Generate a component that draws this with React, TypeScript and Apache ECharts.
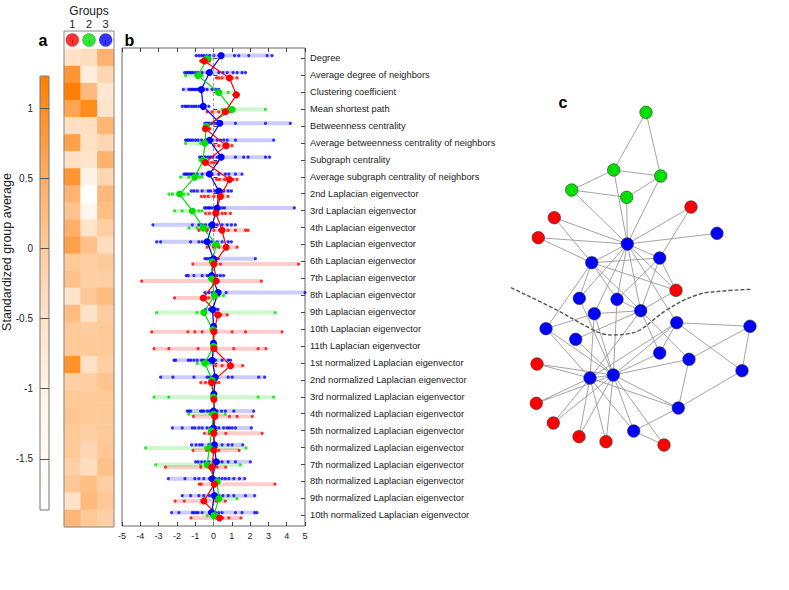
import React, { useEffect, useRef } from 'react';
import * as echarts from 'echarts';

const FONT = 'Liberation Sans, Arial, sans-serif';

const features = [
  'Degree', 'Average degree of neighbors', 'Clustering coefficient', 'Mean shortest path',
  'Betweenness centrality', 'Average betweenness centrality of neighbors', 'Subgraph centrality',
  'Average subgraph centrality of neighbors',
  '2nd Laplacian eigenvector', '3rd Laplacian eigenvector', '4th Laplacian eigenvector', '5th Laplacian eigenvector',
  '6th Laplacian eigenvector', '7th Laplacian eigenvector', '8th Laplacian eigenvector', '9th Laplacian eigenvector',
  '10th Laplacian eigenvector', '11th Laplacian eigenvector',
  '1st normalized Laplacian eigenvector', '2nd normalized Laplacian eigenvector', '3rd normalized Laplacian eigenvector',
  '4th normalized Laplacian eigenvector', '5th normalized Laplacian eigenvector', '6th normalized Laplacian eigenvector',
  '7th normalized Laplacian eigenvector', '8th normalized Laplacian eigenvector', '9th normalized Laplacian eigenvector',
  '10th normalized Laplacian eigenvector',
];

const groupLabels = ['1', '2', '3'];
const groupColors = ['#ff0000', '#00e000', '#0000ff'];
const bandColors = ['rgba(255,0,0,0.2)', 'rgba(0,220,0,0.2)', 'rgba(0,0,255,0.2)'];
const rowOffsets = [0.16, 0.02, -0.16];

// group means (standardized)
const redMean = [-0.5, 0.87, 1.25, 0.65, -0.44, 0.69, -0.45, 0.87, 0.38, 0.13, 0.47, 0.69, 0.02, 0.15,
  -0.56, 0.24, 0.02, 0.02, 0.93, -0.11, 0.02, 0.07, 0.02, 0.02, -0.1, 0.05, -0.53, 0.33];
const greenMean = [-0.35, -0.85, 0.29, 1.02, -0.4, -0.47, -0.56, -1.02, -1.85, -1.16, -0.56, 0.15, -0.07, -0.1,
  0.05, -0.53, -0.04, 0, -0.47, -0.07, 0, 0, -0.11, -0.22, -0.35, 0.2, 0.29, 0.02];
const blueMean = [0.42, -0.22, -0.67, -0.56, 0.35, -0.22, 0.42, -0.22, 0.29, 0.2, -0.07, -0.35, 0.0, -0.1,
  0.25, -0.05, 0, 0, -0.07, 0.1, 0.02, 0.0, 0.0, 0.05, 0.15, -0.07, 0.05, -0.11];

// individual node values per feature
const redPoints = [
  [-0.7, -0.65, -0.6, -0.55, -0.45, -0.3, -0.22],
  [0.16, 0.29, 0.47, 0.75, 0.87, 1.02, 1.29],
  [1.1, 1.18, 1.25, 1.3, 1.35],
  [-0.35, -0.07, 0.29, 0.56, 0.65, 0.75, 0.93],
  [-0.47, -0.45, -0.42, -0.35, -0.25, -0.2],
  [0.02, 0.29, 0.56, 0.69, 0.8, 1.02],
  [-0.55, -0.45, -0.3, -0.1, 0.05, 0.2],
  [0.16, 0.33, 0.6, 0.87, 1.07, 1.29],
  [-0.67, -0.49, -0.29, 0.02, 0.29, 0.38, 0.47, 0.8],
  [-0.44, -0.22, 0.02, 0.13, 0.2, 0.47, 0.65, 0.93],
  [-0.8, -0.35, 0.02, 0.33, 0.47, 0.8, 1.2, 1.75, 1.89],
  [-0.35, 0, 0.3, 0.69, 1.29],
  [-1.13, 0.02, 0.38, 4.65],
  [-3.93, 0.02, 0.15, 2.62],
  [-2.13, -0.62, -0.56, -0.4, -0.25, 0.1],
  [0.11, 0.24, 0.4, 0.75],
  [-3.38, -1.4, -1.02, -0.62, 0.02, 1.02, 1.75, 3.75],
  [-3.25, -2.44, -0.84, 0.02, 1.11, 2.44, 2.87],
  [0.11, 0.47, 0.93, 1.6],
  [-0.7, -0.44, -0.11, 0.14, 0.3],
  [0, 0.02, 0.05],
  [-1.1, 0.07, 0.87, 1.29, 2.12],
  [-0.5, -0.24, 0.02, 0.67, 2.66],
  [-1.12, -0.37, 0.02, 0.29, 1.4],
  [-2.63, -0.69, -0.1, 0.2, 0.67],
  [-0.78, -0.67, 0.05, 3.36],
  [-2.1, -1.6, -0.53, 0.14, 0.65],
  [-1.23, 0.14, 0.33, 0.5, 0.84, 1.5],
];
const greenPoints = [
  [-0.53, -0.45, -0.35, -0.25, -0.15],
  [-1.53, -0.95, -0.85, -0.75, -0.62],
  [0.16, 0.29, 0.4, 0.8, 1.2],
  [0.47, 0.65, 0.84, 1.02, 2.84],
  [-0.47, -0.44, -0.4, -0.38, -0.35],
  [-1.53, -0.71, -0.53, -0.47, -0.44],
  [-0.75, -0.65, -0.56, -0.5, -0.45],
  [-1.8, -1.35, -1.02, -0.76, -0.62],
  [-2.44, -2.25, -1.85, -1.62, -1.38],
  [-2.13, -1.71, -1.16, -0.8, -0.62],
  [-1.35, -0.9, -0.56, -0.3, -0.16],
  [-0.22, 0, 0.15, 0.25, 0.29],
  [-0.15, -0.1, -0.07, 0, 0.05],
  [-0.2, -0.15, -0.1, -0.05, 0],
  [0.02, 0.05, 0.1, 0.3, 0.56],
  [-3.11, -0.9, -0.6, -0.53, 3.38],
  [-0.06, -0.05, -0.04, -0.03, -0.02],
  [-0.02, 0, 0, 0, 0.02],
  [-0.89, -0.55, -0.47, -0.3, -0.16],
  [-0.2, -0.1, -0.07, 0, 0.1],
  [-3.25, -2.44, 0, 2.44, 3.29],
  [-1.35, -0.2, 0, 0.2, 0.65],
  [-0.2, -0.15, -0.11, -0.05, 0],
  [-3.71, -0.44, -0.22, -0.1, 1.78],
  [-3.16, -0.71, -0.35, -0.1, 1.47],
  [0.1, 0.15, 0.2, 0.25, 0.3],
  [-0.47, 0.2, 0.29, 0.4, 1.29],
  [-0.35, -0.1, 0.02, 0.15, 0.29],
];
const bluePoints = [
  [-0.95, -0.8, -0.65, -0.53, -0.38, -0.22, 0.02, 0.29, 0.42, 1.15, 1.38, 1.93, 2.93, 3.2],
  [-1.58, -1.47, -1.38, -1.29, -1.2, -1.11, -0.98, -0.84, -0.62, -0.35, -0.22, 0.29, 0.51, 0.75, 1.07, 1.29, 1.56, 1.75],
  [-1.65, -1.35, -1.25, -1.16, -1.07, -0.98, -0.89, -0.8, -0.67, -0.53, -0.35, -0.07, 0.11, 0.29],
  [-1.71, -1.56, -1.47, -1.35, -1.2, -1.07, -0.95, -0.8, -0.56, -0.25],
  [-0.47, -0.4, -0.33, -0.22, -0.11, 0.02, 0.16, 0.35, 1.2, 2.84, 4.2],
  [-1.53, -1.44, -1.35, -1.25, -1.13, -0.98, -0.84, -0.65, -0.44, -0.29, -0.22, -0.04, 0.2, 0.38, 0.56, 0.75, 1.2, 3.29],
  [-0.76, -0.65, -0.53, -0.44, -0.29, -0.16, -0.04, 0.2, 0.42, 1.2, 1.65, 1.89, 2.84, 3.07],
  [-1.62, -1.53, -1.44, -1.35, -1.25, -1.16, -1.07, -0.89, -0.62, -0.35, -0.22, -0.07, 0.29, 0.65, 0.84, 1.2, 1.56],
  [-1.22, -1.07, -0.89, -0.62, -0.29, -0.16, 0.07, 0.2, 0.29, 0.44, 0.56, 0.8, 0.98],
  [-0.49, -0.4, -0.29, -0.22, -0.11, 0.02, 0.15, 0.29, 0.47, 0.6, 4.42],
  [-3.31, -1.16, -0.8, -0.62, -0.44, -0.22, -0.07, 0.2, 0.47, 0.75, 0.98, 1.2],
  [-3.11, -2.89, -1.25, -0.8, -0.62, -0.47, -0.35, -0.11, 0.2, 0.47, 0.8, 0.98],
  [-0.47, -0.35, -0.22, -0.11, 0.02, 0.15, 0.25, 2.29],
  [-1.49, -1.38, -1.07, -0.62, -0.35, -0.22, -0.07, 0.07, 0.2, 0.38, 0.56],
  [-0.47, -0.25, -0.07, 0.16, 0.33, 0.69, 5.0],
  [-0.44, -0.22, -0.07, 0.11, 0.25],
  [-0.05, 0, 0.05],
  [-0.05, 0, 0.05],
  [-2.16, -2.07, -1.38, -1.25, -1.07, -0.89, -0.65, -0.53, -0.35, -0.22, -0.11, 0.11, 0.47, 0.8, 0.93],
  [-2.89, -2.22, -1.07, -0.35, -0.22, -0.07, 0.11, 0.8, 1.02, 2.47, 2.8],
  [-0.05, 0, 0.05],
  [-1.44, -1.35, -1.25, -0.71, -0.62, -0.53, -0.35, -0.22, -0.11, 0.02, 0.2, 0.44, 0.65, 1.11, 2.2],
  [-2.25, -1.71, -1.16, -1.02, -0.8, -0.62, -0.35, -0.16, 0.07, 0.29, 0.56, 0.75, 0.87, 1.02, 1.2, 2.07],
  [-1.2, -0.95, -0.76, -0.62, -0.25, -0.11, 0.11, 0.47, 0.8, 1.02, 1.6],
  [-0.98, -0.84, -0.65, -0.47, -0.25, 0.15, 0.29, 0.47, 0.8, 1.2, 2.02],
  [-2.47, -1.56, -1.02, -0.8, -0.53, -0.22, -0.07, 0.11, 0.29, 0.47, 0.65, 0.84, 1.11, 1.42, 1.71],
  [-1.71, -1.25, -0.8, -0.53, -0.22, 0.02, 0.29, 0.51, 0.8, 1.11, 1.75, 2.25],
  [-2.29, -1.89, -1.16, -1.07, -0.95, -0.84, -0.62, -0.22, -0.11, 0.11, 0.29, 0.47, 1.2, 1.56, 2.25, 2.38],
];

// colour scale of panel a
const cbMin = -1.865;
const cbMax = 1.23;
const cbTicks = [-1.5, -1, -0.5, 0, 0.5, 1];
const cbColors = ['#ffffff', '#fff5ec', '#ffdcbc', '#ffb06a', '#ff7f00'];

// panel c: network (karate club), node layout positions and groups
const nodeX = [137.3, 101.7, 150.7, 169.7, 136.7, 123.7, 170.7, 186, 104.3, 85.7, 81.7, 227, 201, 127, 47, 46.3, 156,
  64.3, 63.3, 89.3, 89, 48.3, 116, 188.3, 260, 252, 174, 199, 169.7, 143.7, 56, 186.7, 100, 123.3];
const nodeY = [154, 172.7, 220.7, 168, 107.3, 80, 86, 200.3, 223.7, 249.3, 100, 143.3, 117, 209.3, 274, 313.3, 22.3,
  127.7, 333, 208.3, 346.7, 147.7, 351.7, 318, 236.3, 280.7, 355, 269.3, 263, 341, 238.7, 232.7, 288, 285];
const nodeGroup = [3, 3, 3, 3, 2, 2, 2, 1, 3, 3, 2, 3, 1, 3, 1, 1, 2, 1, 1, 3, 1, 1, 1, 3, 3, 3, 1, 3, 3, 3, 3, 3, 3, 3];
const edges = [
  [1, 2], [1, 3], [1, 4], [1, 5], [1, 6], [1, 7], [1, 8], [1, 9], [1, 11], [1, 12], [1, 13], [1, 14], [1, 18], [1, 20], [1, 22], [1, 32],
  [2, 3], [2, 4], [2, 8], [2, 14], [2, 18], [2, 20], [2, 22], [2, 31],
  [3, 4], [3, 8], [3, 9], [3, 10], [3, 14], [3, 28], [3, 29], [3, 33],
  [4, 8], [4, 13], [4, 14], [5, 7], [5, 11], [6, 7], [6, 11], [6, 17], [7, 17],
  [9, 31], [9, 33], [9, 34], [10, 34], [14, 34], [15, 33], [15, 34], [16, 33], [16, 34], [19, 33], [19, 34],
  [20, 34], [21, 33], [21, 34], [23, 33], [23, 34], [24, 26], [24, 28], [24, 30], [24, 33], [24, 34],
  [25, 26], [25, 28], [25, 32], [26, 32], [27, 30], [27, 34], [28, 34], [29, 32], [29, 34], [30, 33], [30, 34],
  [31, 33], [31, 34], [32, 33], [32, 34], [33, 34],
];
const curveX = [21, 66.7, 100, 113.3, 123.3, 140, 150, 176.7, 206.7, 233.3, 261.7];
const curveY = [197.7, 220, 238.3, 244, 245, 243.3, 240, 220, 205, 201, 199.3];

export default function App() {
  const ref = useRef<HTMLDivElement>(null);
  useEffect(() => {
    if (!ref.current) return;
    const chart = echarts.init(ref.current, undefined, { renderer: 'svg' });
    const means = [redMean, greenMean, blueMean];
    const points = [redPoints, greenPoints, bluePoints];
    const heatData: number[][] = [];
    features.forEach((_, i) => means.forEach((m, g) => heatData.push([g, i, m[i]])));

    const bandSeries = [2, 1, 0].map((g) => ({
      type: 'custom',
      xAxisIndex: 5,
      yAxisIndex: 6,
      silent: true,
      encode: { x: [1, 2], y: 0 },
      data: points[g].map((p, i) => [i + rowOffsets[g], Math.min(...p), Math.max(...p)]),
      renderItem: (params: any, api: any) => {
        const y = api.value(0);
        const a = api.coord([api.value(1), y]);
        const b = api.coord([api.value(2), y]);
        return {
          type: 'rect',
          shape: { x: a[0], y: a[1] - 2, width: Math.max(b[0] - a[0], 1), height: 4 },
          style: { fill: bandColors[g] },
        };
      },
    }));
    const dotSeries = [2, 1, 0].map((g) => ({
      type: 'scatter',
      xAxisIndex: 5,
      yAxisIndex: 6,
      silent: true,
      symbolSize: 3.2,
      itemStyle: { color: groupColors[g] },
      data: points[g].flatMap((p, i) => p.map((v) => [v, i + rowOffsets[g]])),
    }));
    const meanSeries = [2, 1, 0].map((g) => ({
      type: 'line',
      xAxisIndex: 5,
      yAxisIndex: 6,
      silent: true,
      symbol: 'circle',
      symbolSize: 7,
      itemStyle: { color: groupColors[g] },
      lineStyle: { color: groupColors[g], width: 1.2 },
      data: means[g].map((m, i) => [m, i + rowOffsets[g]]),
    }));

    const groupFill = ['#ff0000', '#00e000', '#0000ff'];

    const option: any = {
      animation: false,
      textStyle: { fontFamily: FONT },
      grid: [
        { left: 40, top: 76, width: 9, height: 434, show: true, borderColor: '#777', borderWidth: 1, z: 6, outerBoundsMode: 'none' },
        { left: 64, top: 31, width: 50, height: 18, outerBoundsMode: 'none' },
        { left: 64, top: 49, width: 50, height: 478, outerBoundsMode: 'none' },
        { left: 122, top: 48, width: 183, height: 478, show: true, borderColor: '#666', borderWidth: 1, outerBoundsMode: 'none' },
        { left: 122, top: 49.84, width: 183, height: 473.9, outerBoundsMode: 'none' },
        { left: 490, top: 90, width: 280, height: 370, outerBoundsMode: 'none' },
      ],
      xAxis: [
        { gridIndex: 0, type: 'value', show: false, min: 0, max: 1 },
        {
          gridIndex: 1, type: 'category', data: groupLabels, position: 'top',
          axisLine: { show: false },
          axisTick: { show: true, inside: true, alignWithLabel: true, length: 4, lineStyle: { color: '#333' } },
          axisLabel: { fontSize: 11, color: '#222', margin: 2 },
          name: 'Groups', nameLocation: 'middle', nameGap: 10,
          nameTextStyle: { fontSize: 12, color: '#222' },
        },
        {
          gridIndex: 2, type: 'category', data: groupLabels, position: 'bottom',
          axisLine: { show: false },
          axisTick: { show: true, inside: true, alignWithLabel: true, length: 4, lineStyle: { color: '#333' } },
          axisLabel: { show: false },
        },
        {
          gridIndex: 3, type: 'value', min: -5, max: 5, interval: 1, position: 'bottom',
          axisLine: { show: false },
          axisTick: { show: true, inside: true, length: 4, lineStyle: { color: '#444' } },
          axisLabel: { fontSize: 9, color: '#222', margin: 5 },
          splitLine: { show: false },
        },
        {
          gridIndex: 3, type: 'value', min: -5, max: 5, interval: 1, position: 'top',
          axisLine: { show: false },
          axisTick: { show: true, inside: true, length: 4, lineStyle: { color: '#444' } },
          axisLabel: { show: false },
          splitLine: { show: false },
        },
        { gridIndex: 4, type: 'value', min: -5, max: 5, show: false },
        { gridIndex: 5, type: 'value', min: 0, max: 280, show: false },
      ],
      yAxis: [
        {
          gridIndex: 0, type: 'value', min: cbMin, max: cbMax, z: 7,
          axisLine: { show: false },
          axisTick: { show: true, inside: true, length: 9, customValues: cbTicks, lineStyle: { color: '#555' } },
          axisLabel: { customValues: cbTicks, fontSize: 10, color: '#222', margin: 7 },
          splitLine: { show: false },
        },
        { gridIndex: 1, type: 'value', min: -1, max: 1, show: false },
        { gridIndex: 2, type: 'category', data: features, inverse: true, show: false },
        { gridIndex: 3, type: 'value', min: 0, max: 1, show: false },
        {
          gridIndex: 4, type: 'category', data: features, inverse: true, position: 'left',
          axisLine: { show: false },
          axisTick: { show: true, inside: true, alignWithLabel: true, length: 4, lineStyle: { color: '#444' } },
          axisLabel: { show: false },
        },
        {
          gridIndex: 4, type: 'category', data: features, inverse: true, position: 'right',
          axisLine: { show: false },
          axisTick: { show: true, inside: true, alignWithLabel: true, length: 4, lineStyle: { color: '#444' } },
          axisLabel: { interval: 0, fontSize: 9.3, color: '#222', margin: 5 },
        },
        { gridIndex: 4, type: 'value', min: -0.5, max: 27.5, inverse: true, show: false },
        { gridIndex: 5, type: 'value', min: 0, max: 370, inverse: true, show: false },
      ],
      visualMap: {
        type: 'continuous', seriesIndex: 0, min: cbMin, max: cbMax,
        left: 40, top: 76, itemWidth: 9, itemHeight: 434, padding: 0,
        calculable: false, hoverLink: false, z: 2,
        inRange: { color: cbColors },
      },
      series: [
        { type: 'heatmap', xAxisIndex: 2, yAxisIndex: 2, data: heatData, silent: true },
        {
          type: 'scatter', xAxisIndex: 1, yAxisIndex: 1, symbolSize: 13, silent: true,
          itemStyle: { borderColor: '#444', borderWidth: 0.4 },
          data: groupLabels.map((_, i) => ({ value: [i, 0], itemStyle: { color: groupFill[i] } })),
        },
        {
          type: 'line', xAxisIndex: 3, yAxisIndex: 3, silent: true, symbol: 'none',
          lineStyle: { color: '#888', width: 0.8, type: [3, 2] },
          data: [[0, 0], [0, 1]],
        },
        ...bandSeries,
        ...dotSeries,
        ...meanSeries,
        {
          type: 'graph', coordinateSystem: 'cartesian2d', xAxisIndex: 6, yAxisIndex: 7, silent: true,
          symbolSize: 12.5,
          itemStyle: { borderColor: '#333', borderWidth: 0.6 },
          lineStyle: { color: '#999', width: 0.9, opacity: 1 },
          label: { show: false },
          data: nodeX.map((x, i) => ({ value: [x, nodeY[i]], itemStyle: { color: groupFill[nodeGroup[i] - 1] } })),
          links: edges.map(([s, t]) => ({ source: s - 1, target: t - 1 })),
        },
        {
          type: 'line', xAxisIndex: 6, yAxisIndex: 7, silent: true, symbol: 'none', smooth: 0.4,
          lineStyle: { color: '#555', width: 1.4, type: [4, 2] },
          data: curveX.map((x, i) => [x, curveY[i]]),
        },
      ],
      graphic: [
        { type: 'rect', shape: { x: 64, y: 31, width: 50, height: 496 }, style: { fill: 'none', stroke: '#888', lineWidth: 1 }, z: 100 },
        { type: 'text', x: 43, y: 40, style: { text: 'a', font: `bold 16px ${FONT}`, fill: '#000', align: 'center', verticalAlign: 'middle' } },
        { type: 'text', x: 129.5, y: 40, style: { text: 'b', font: `bold 16px ${FONT}`, fill: '#000', align: 'center', verticalAlign: 'middle' } },
        { type: 'text', x: 563, y: 102, style: { text: 'c', font: `bold 16px ${FONT}`, fill: '#000', align: 'center', verticalAlign: 'middle' } },
        {
          type: 'text', x: 7, y: 252, rotation: Math.PI / 2,
          style: { text: 'Standardized group average', font: `12.5px ${FONT}`, fill: '#222', align: 'center', verticalAlign: 'middle' },
        },
      ],
    };
    chart.setOption(option);
    return () => chart.dispose();
  }, []);
  return (
    <div
      ref={ref}
      style={{ position: 'absolute', left: 0, top: 0, width: 789, height: 590, background: '#fff' }}
    />
  );
}
